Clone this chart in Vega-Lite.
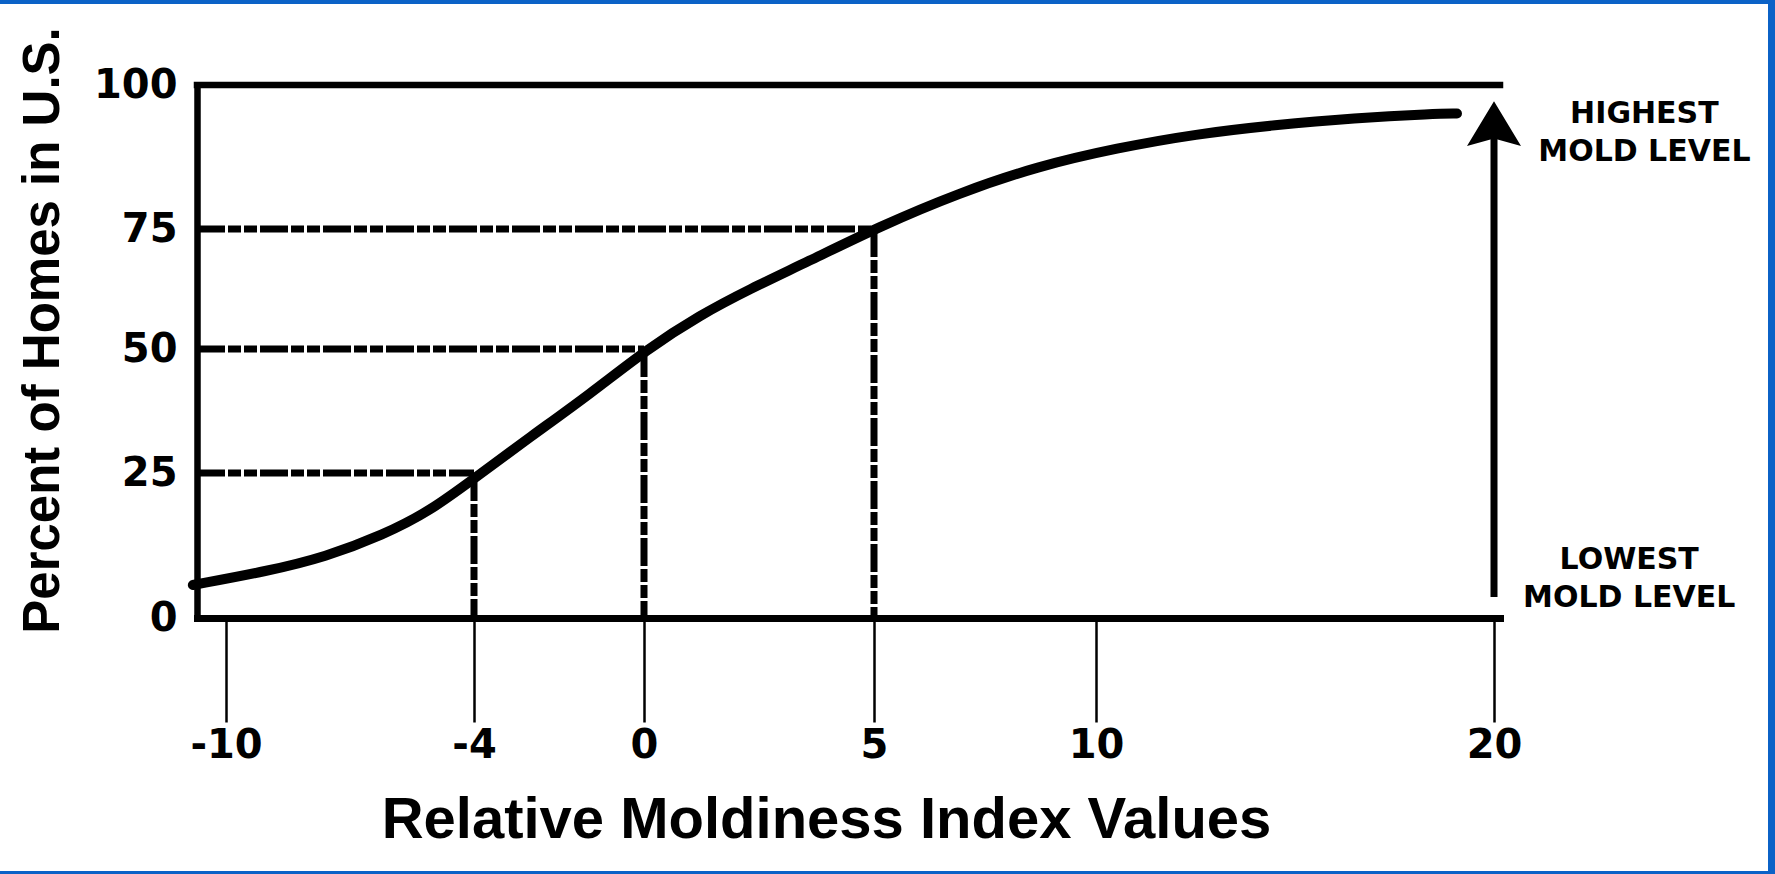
{
  "$schema": "https://vega.github.io/schema/vega-lite/v6.json",
  "width": 1768,
  "height": 867,
  "autosize": {"type": "none"},
  "padding": {"left": 0, "top": 4, "right": 7, "bottom": 3},
  "background": "#0b62c7",
  "config": {
    "view": {"stroke": null, "fill": "white"},
    "axis": {"grid": false}
  },
  "datasets": {
    "curve": [
      {"x": -10.8, "y": 5.69},
      {"x": -8.98, "y": 8.1},
      {"x": -7.6, "y": 10.52},
      {"x": -6.2, "y": 14.31},
      {"x": -5.06, "y": 18.45},
      {"x": -3.95, "y": 24.3},
      {"x": -2.68, "y": 32.26},
      {"x": -1.27, "y": 40.93},
      {"x": 0.07, "y": 50.0},
      {"x": 1.22, "y": 57.08},
      {"x": 2.3, "y": 62.5},
      {"x": 3.54, "y": 68.1},
      {"x": 5.14, "y": 75.5},
      {"x": 6.91, "y": 81.25},
      {"x": 8.69, "y": 85.9},
      {"x": 10.53, "y": 89.06},
      {"x": 12.51, "y": 91.49},
      {"x": 14.5, "y": 93.06},
      {"x": 16.48, "y": 94.27},
      {"x": 18.49, "y": 95.0},
      {"x": 19.07, "y": 95.05}
    ],
    "dashed": [
      {"x": -10.7, "x2": -4, "y": 25, "y2": 25},
      {"x": -10.7, "x2": 0, "y": 50, "y2": 50},
      {"x": -10.7, "x2": 5, "y": 75, "y2": 75},
      {"x": -4, "x2": -4, "y": 25, "y2": 0},
      {"x": 0, "x2": 0, "y": 50, "y2": 0},
      {"x": 5, "x2": 5, "y": 75, "y2": 0}
    ],
    "topline": [
      {"x": -10.7, "x2": 20.15, "y": 100}
    ],
    "arrow": [
      {"x": 20, "y": 3.6, "y2": 91}
    ],
    "arrowhead": [
      {"x": 20, "y": 93.3}
    ],
    "notes": [
      {"x": 23.76, "y": 94.97, "label": ["HIGHEST", "MOLD LEVEL"]},
      {"x": 23.38, "y": 10.0, "label": ["LOWEST", "MOLD LEVEL"]}
    ]
  },
  "layer": [
    {
      "data": {"name": "curve"},
      "mark": {"type": "line", "color": "black", "strokeWidth": 10, "strokeCap": "round", "interpolate": "basis"},
      "encoding": {
        "x": {
          "field": "x", "type": "quantitative",
          "scale": {"type": "linear", "domain": [-10.7, -10, -4, 0, 5, 10, 20, 20.15], "range": [197, 226, 474, 644, 874, 1096, 1494, 1500], "nice": false, "zero": false},
          "axis": {
            "values": [-10, -4, 0, 5, 10, 20],
            "labelExpr": "datum.value + ''",
            "offset": -253,
            "title": "Relative Moldiness Index Values",
            "titleFont": "Liberation Sans", "titleFontWeight": "bold", "titleFontSize": 58, "titleColor": "black",
            "titleX": 826, "titleY": 202, "titleBaseline": "middle", "titleAlign": "center",
            "domainColor": "black", "domainWidth": 7, "domainCap": "square",
            "ticks": true, "tickColor": "black", "tickWidth": 2.5, "tickSize": 104,
            "labelFont": "DejaVu Sans", "labelFontWeight": "bold", "labelFontSize": 40, "labelColor": "black",
            "labelPadding": 3, "labelOverlap": false, "labelFlush": false
          }
        },
        "y": {
          "field": "y", "type": "quantitative",
          "scale": {"type": "linear", "domain": [0, 25, 50, 75, 100], "range": [614, 469, 345, 225, 81], "nice": false, "zero": false},
          "axis": {
            "values": [0, 25, 50, 75, 100],
            "labelExpr": "datum.value + ''",
            "offset": -197,
            "title": "Percent of Homes in U.S.",
            "titleFont": "Liberation Sans", "titleFontWeight": "bold", "titleFontSize": 51, "titleColor": "black",
            "titleX": -153.5, "titleY": 326, "titleAngle": -90, "titleBaseline": "middle", "titleAlign": "center",
            "domainColor": "black", "domainWidth": 6.5, "domainCap": "square",
            "ticks": false, "tickSize": 0,
            "labelFont": "DejaVu Sans", "labelFontWeight": "bold", "labelFontSize": 40, "labelColor": "black",
            "labelPadding": 20, "labelAlign": "right", "labelBaseline": "middle", "labelOverlap": false, "labelFlush": false
          }
        }
      }
    },
    {
      "data": {"name": "dashed"},
      "mark": {"type": "rule", "color": "black", "strokeWidth": 7, "strokeDash": [28, 3, 13, 3, 13, 3]},
      "encoding": {
        "x": {"field": "x", "type": "quantitative"},
        "x2": {"field": "x2"},
        "y": {"field": "y", "type": "quantitative"},
        "y2": {"field": "y2"}
      }
    },
    {
      "data": {"name": "topline"},
      "mark": {"type": "rule", "color": "black", "strokeWidth": 6.5, "strokeCap": "square"},
      "encoding": {
        "x": {"field": "x", "type": "quantitative"},
        "x2": {"field": "x2"},
        "y": {"field": "y", "type": "quantitative"}
      }
    },
    {
      "data": {"name": "arrow"},
      "mark": {"type": "rule", "color": "black", "strokeWidth": 7},
      "encoding": {
        "x": {"field": "x", "type": "quantitative"},
        "y": {"field": "y", "type": "quantitative"},
        "y2": {"field": "y2"}
      }
    },
    {
      "data": {"name": "arrowhead"},
      "mark": {"type": "point", "shape": "M0,-0.83L1,0.83L0,0.55L-1,0.83Z", "size": 2916, "filled": true, "color": "black", "opacity": 1, "strokeWidth": 0},
      "encoding": {
        "x": {"field": "x", "type": "quantitative"},
        "y": {"field": "y", "type": "quantitative"}
      }
    },
    {
      "data": {"name": "notes"},
      "mark": {"type": "text", "font": "DejaVu Sans", "fontWeight": "bold", "fontSize": 30, "color": "black", "align": "center", "baseline": "middle", "lineHeight": 38},
      "encoding": {
        "x": {"field": "x", "type": "quantitative"},
        "y": {"field": "y", "type": "quantitative"},
        "text": {"field": "label"}
      }
    }
  ]
}
